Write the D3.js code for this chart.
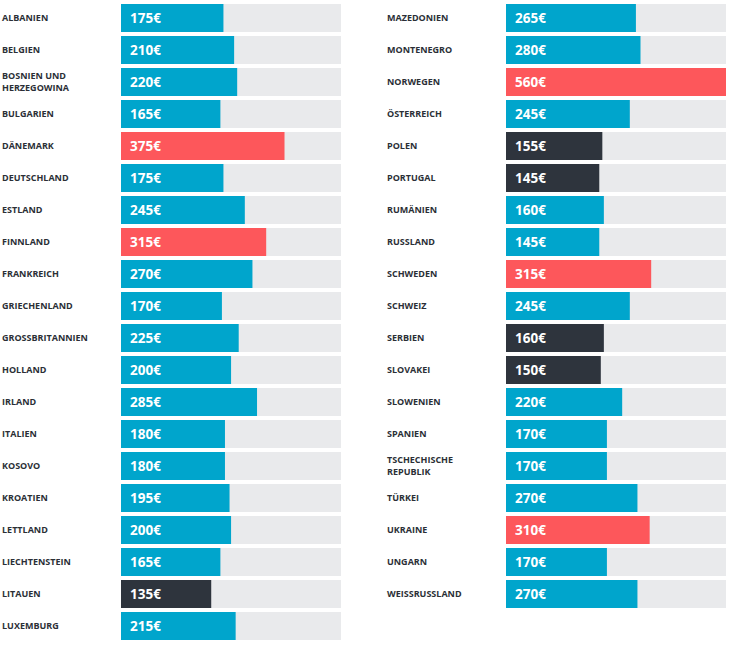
<!DOCTYPE html>
<html><head><meta charset="utf-8">
<script src="https://cdn.jsdelivr.net/npm/d3@7"></script>
<style>body{margin:0;background:#fff;} svg{display:block;font-family:"Open Sans",sans-serif;}</style>
</head><body>
<svg id="chart" width="730" height="654"></svg>
<script>
const leftCountries = ["ALBANIEN","BELGIEN","BOSNIEN UND|HERZEGOWINA","BULGARIEN","DÄNEMARK","DEUTSCHLAND","ESTLAND","FINNLAND","FRANKREICH","GRIECHENLAND","GROSSBRITANNIEN","HOLLAND","IRLAND","ITALIEN","KOSOVO","KROATIEN","LETTLAND","LIECHTENSTEIN","LITAUEN","LUXEMBURG"];
const leftValues = [175,210,220,165,375,175,245,315,270,170,225,200,285,180,180,195,200,165,135,215];
const leftGroups = ["mid","mid","mid","mid","high","mid","mid","high","mid","mid","mid","mid","mid","mid","mid","mid","mid","mid","low","mid"];
const rightCountries = ["MAZEDONIEN","MONTENEGRO","NORWEGEN","ÖSTERREICH","POLEN","PORTUGAL","RUMÄNIEN","RUSSLAND","SCHWEDEN","SCHWEIZ","SERBIEN","SLOVAKEI","SLOWENIEN","SPANIEN","TSCHECHISCHE|REPUBLIK","TÜRKEI","UKRAINE","UNGARN","WEISSRUSSLAND"];
const rightValues = [265,280,560,245,155,145,160,145,315,245,160,150,220,170,170,270,310,170,270];
const rightGroups = ["mid","mid","high","mid","low","low","mid","mid","high","mid","low","low","mid","mid","mid","mid","high","mid","mid"];
const maxValue = 560;

const colors = {mid:"#00a5cc", high:"#fd575b", low:"#2e343d"};
const svg = d3.select("#chart");

const rowPitch = 32, gap = 4, topY = 4;
const x = d3.scaleLinear().domain([0, maxValue]).range([49, 220]);

function column(names, values, groups, x0) {
  const n = names.length;
  const y = d3.scaleBand().domain(d3.range(n))
    .range([topY, topY + rowPitch * n - gap]).paddingInner(gap/rowPitch).paddingOuter(0).align(0);
  const g = svg.append("g").attr("transform", `translate(${x0},0)`);
  const rows = g.selectAll("g.row").data(names.map((nm,i)=>({n:nm, v:values[i], c:groups[i], i})))
    .join("g").attr("class","row").attr("transform", d=>`translate(0,${y(d.i)})`);
  const bh = y.bandwidth();
  rows.append("rect").attr("x",121).attr("y",0).attr("width",x.range()[1]).attr("height",bh).attr("fill","#e9eaec");
  rows.append("rect").attr("x",121).attr("y",0).attr("width",d=>x(d.v)).attr("height",bh).attr("fill",d=>colors[d.c]);
  rows.append("text").attr("x",130).attr("y",bh/2).attr("dy","0.36em")
    .attr("fill","#fff").attr("font-size",13.5).attr("font-weight",700).text(d=>d.v+"€");
  const lab = rows.append("text").attr("x",2).attr("fill","#2b2f36").attr("font-size",9).attr("font-weight",700);
  lab.each(function(d){
    const parts = d.n.split("|");
    const t = d3.select(this);
    parts.forEach((p,k)=>{
      t.append("tspan").attr("x",2).attr("y", bh/2 + (k - (parts.length-1)/2)*12.5).attr("dy","0.36em").text(p);
    });
  });
}
column(leftCountries, leftValues, leftGroups, 0);
column(rightCountries, rightValues, rightGroups, 385);
</script>
</body></html>
